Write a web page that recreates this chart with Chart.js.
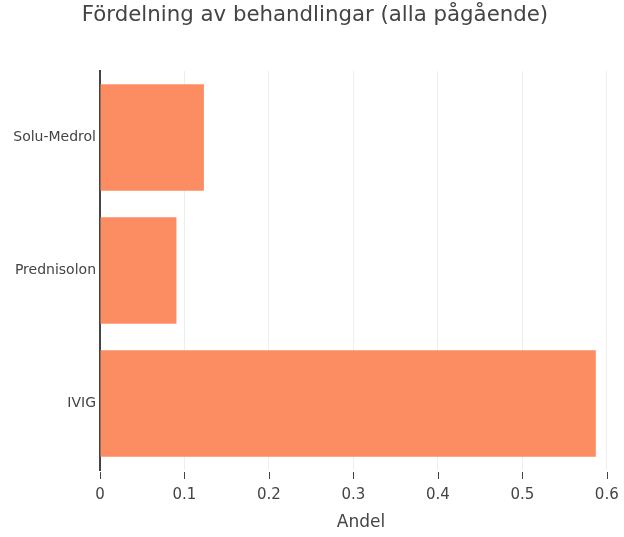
<!DOCTYPE html>
<html>
<head>
<meta charset="utf-8">
<script src="https://cdn.jsdelivr.net/npm/chart.js@4"></script>
<style>
  html, body { margin: 0; padding: 0; background: #fff; }
  #wrap { width: 624px; height: 537px; }
</style>
</head>
<body>
<div id="wrap"><canvas id="chart"></canvas></div>
<script>
// Data
const categories = ['Solu-Medrol', 'Prednisolon', 'IVIG'];
const shares = [0.123, 0.0905, 0.587];
const xTicks = [0, 0.1, 0.2, 0.3, 0.4, 0.5, 0.6];

const FONT = '"DejaVu Sans", Verdana, sans-serif';
const TEXT = '#444';

// Plotly-like title and outside tick marks (with a small gap below the plot)
const extras = {
    id: 'extras',
    afterDraw(chart) {
        const ctx = chart.ctx;
        const area = chart.chartArea;
        const x = chart.scales.x;
        ctx.save();
        ctx.strokeStyle = TEXT;
        ctx.lineWidth = 1;
        xTicks.forEach(v => {
            const px = Math.round(x.getPixelForValue(v)) + 0.5;
            ctx.beginPath();
            ctx.moveTo(px, area.bottom + 2);
            ctx.lineTo(px, area.bottom + 9);
            ctx.stroke();
        });
        ctx.fillStyle = TEXT;
        ctx.font = '21.3px ' + FONT;
        ctx.textAlign = 'center';
        ctx.textBaseline = 'alphabetic';
        ctx.fillText('Fördelning av behandlingar (alla pågående)', 315, 21);
        ctx.restore();
    }
};

new Chart(document.getElementById('chart'), {
    type: 'bar',
    data: {
        labels: categories,
        datasets: [{
            data: shares,
            backgroundColor: '#fc8d62',
            borderWidth: 0,
            barPercentage: 0.8,
            categoryPercentage: 1.0
        }]
    },
    options: {
        indexAxis: 'y',
        responsive: true,
        maintainAspectRatio: false,
        animation: false,
        layout: { padding: { top: 71, right: 2, left: 0, bottom: 0 } },
        plugins: {
            legend: { display: false },
            tooltip: { enabled: false },
            title: { display: false }
        },
        scales: {
            x: {
                type: 'linear',
                min: 0,
                max: 0.618,
                afterBuildTicks(scale) {
                    scale.ticks = xTicks.map(v => ({ value: v }));
                },
                afterFit(scale) {
                    scale.height = 67;
                    scale.paddingLeft = 0;
                    scale.paddingRight = 0;
                },
                ticks: {
                    color: TEXT,
                    font: { family: FONT, size: 15 },
                    padding: 16,
                    callback: v => String(v)
                },
                grid: { color: '#eeeeee', lineWidth: 1, drawTicks: false },
                border: { display: false },
                title: {
                    display: true,
                    text: 'Andel',
                    color: TEXT,
                    font: { family: FONT, size: 17 },
                    padding: { top: 3, bottom: 4 }
                }
            },
            y: {
                afterFit(scale) { scale.width = 100; },
                ticks: {
                    color: TEXT,
                    font: { family: FONT, size: 14 },
                    padding: 4
                },
                grid: { display: false, drawTicks: false },
                border: { display: true, color: TEXT, width: 2 }
            }
        }
    },
    plugins: [extras]
});
</script>
</body>
</html>
